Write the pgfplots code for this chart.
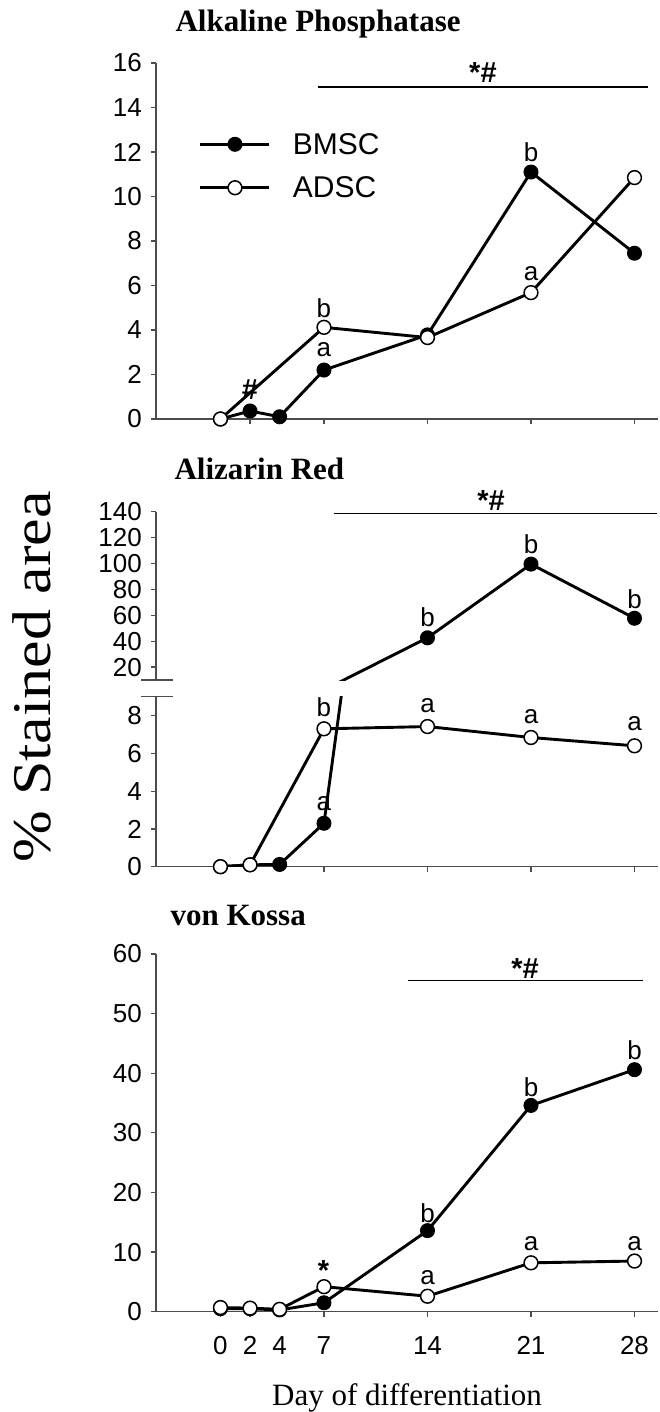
\documentclass[border=0pt]{standalone}
\usepackage{fontspec}
\setmainfont{Liberation Sans}
\newfontfamily\serif{Liberation Serif}
\usepackage{graphicx}
\usepackage{pgfplots}
\pgfplotsset{compat=1.18}
\newcommand\lab{\fontsize{26}{26}\selectfont}
\newcommand\sig{\fontsize{29}{29}\selectfont\bfseries}
\newcommand\tkl{\fontsize{26}{26}\selectfont}
\tikzset{brk/.style={draw=black!70, line width=1.2pt}, xl/.style={font=\tkl, anchor=base, yshift=-43pt}}
\pgfplotsset{
  base/.style={
    scale only axis, width=502pt,
    xmin=-4.36, xmax=29.59,
    axis x line=bottom, axis y line=left,
    axis line style={draw=black!70, line width=1.2pt, -},
    tick align=outside, major tick length=5pt,
    tick style={draw=black!70, line width=1.2pt},
    xtick={0,2,4,7,14,21,28}, xticklabels={},
    tick label style={font=\tkl},
    yticklabel style={anchor=east, inner sep=0pt, xshift=-9pt},
    /pgf/number format/assume math mode=true,
    clip mode=individual,
    anchor=south west,
  },
  bmsc/.style={black, line width=2.9pt, mark=*, mark size=7pt, mark options={fill=black, draw=black, line width=1pt}},
  adsc/.style={black, line width=2.9pt, mark=*, mark size=6.9pt, mark options={fill=white, draw=black, line width=1.5pt}},
  sigline/.style={black, line width=1.2pt, no marks, forget plot},
}
\begin{document}
\begin{tikzpicture}
\useasboundingbox (0,0) rectangle (659pt,-1412pt);
% ---------- Panel 1 ----------
\node[anchor=base west, font=\serif\bfseries\fontsize{31}{31}\selectfont] at (172pt,-32pt) {Alkaline Phosphatase};
\begin{axis}[base, at={(156pt,-419pt)}, height=356pt, ymin=0, ymax=16, ytick={0,2,...,16},
  legend style={draw=none, fill=none, at={(axis cs:-1.45,11.37)}, anchor=west, inner sep=0pt, outer sep=0pt,
    font=\fontsize{30}{30}\selectfont, row sep=21pt, column sep=22pt,
    nodes={inner sep=0pt}},
  legend cell align=left,
  legend image code/.code={\draw[mark repeat=2,mark phase=2,#1] plot coordinates {(0pt,0pt) (34.5pt,0pt) (69pt,0pt)};}
]
\addplot[bmsc] coordinates {(0,0) (2,0.36) (4,0.1) (7,2.2) (14,3.78) (21,11.1) (28,7.45)};
\addlegendentry{BMSC}
\addplot[adsc] coordinates {(0,0) (7,4.12) (14,3.66) (21,5.68) (28,10.85)};
\addlegendentry{ADSC}
\addplot[sigline] coordinates {(6.6,14.92) (28.9,14.92)};
\node[font=\sig] at (axis cs:17.75,15.55) {*\#};
\node[font=\sig] at (axis cs:2,1.3) {\#};
\node[font=\lab] at (axis cs:7,3.1) {a};
\node[font=\lab] at (axis cs:7,5.0) {b};
\node[font=\lab] at (axis cs:21,12.0) {b};
\node[font=\lab] at (axis cs:21,6.55) {a};
\end{axis}
% ---------- Panel 2 ----------
\node[anchor=base west, font=\serif\bfseries\fontsize{31}{31}\selectfont] at (171pt,-479pt) {Alizarin Red};
\begin{axis}[base, at={(156pt,-680pt)}, height=168.3pt, ymin=10, ymax=140, ytick={20,40,...,140},
  axis x line=none, xtick=\empty]
\addplot[bmsc] coordinates {(0,0) (2,0.1) (4,0.12) (7,2.3) (14,42.6) (21,99.5) (28,57.7)};
\addplot[sigline] coordinates {(7.68,138.5) (29.55,138.5)};
\node[font=\sig] at (axis cs:18.3,148.7) {*\#};
\node[font=\lab] at (axis cs:14,58.5) {b};
\node[font=\lab] at (axis cs:21,114.9) {b};
\node[font=\lab] at (axis cs:28,72.6) {b};
\draw[brk] ([xshift=-15pt]rel axis cs:0,0) -- ([xshift=17pt]rel axis cs:0,0);
\end{axis}
\begin{axis}[base, at={(156pt,-866.7pt)}, height=170pt, ymin=0, ymax=9, ytick={0,2,...,8}]
\addplot[bmsc] coordinates {(0,0) (2,0.1) (4,0.12) (7,2.3) (14,42.6) (21,99.5) (28,57.7)};
\addplot[adsc] coordinates {(0,0) (2,0.1) (7,7.3) (14,7.42) (21,6.84) (28,6.4)};
\node[font=\lab] at (axis cs:7,8.46) {b};
\node[font=\lab] at (axis cs:7,3.35) {a};
\node[font=\lab] at (axis cs:14,8.55) {a};
\node[font=\lab] at (axis cs:21,7.96) {a};
\node[font=\lab] at (axis cs:28,7.58) {a};
\draw[brk] ([xshift=-15pt]rel axis cs:0,1) -- ([xshift=17pt]rel axis cs:0,1);
\end{axis}
% ---------- Panel 3 ----------
\node[anchor=base west, font=\serif\bfseries\fontsize{31}{31}\selectfont] at (167pt,-925pt) {von Kossa};
\begin{axis}[base, at={(156pt,-1311.7pt)}, height=357.7pt, ymin=0, ymax=60, ytick={0,10,...,60}]
\addplot[bmsc] coordinates {(0,0.5) (2,0.5) (4,0.3) (7,1.5) (14,13.6) (21,34.6) (28,40.6)};
\addplot[adsc] coordinates {(0,0.7) (2,0.6) (4,0.4) (7,4.2) (14,2.6) (21,8.2) (28,8.5)};
\addplot[sigline] coordinates {(12.65,55.5) (28.57,55.5)};
\node[font=\sig] at (axis cs:20.6,57.6) {*\#};
\node[font=\sig] at (axis cs:6.97,6.95) {*};
\node[font=\lab] at (axis cs:14,5.8) {a};
\node[font=\lab] at (axis cs:14,16.6) {b};
\node[font=\lab] at (axis cs:21,37.7) {b};
\node[font=\lab] at (axis cs:28,43.9) {b};
\node[font=\lab] at (axis cs:21,11.5) {a};
\node[font=\lab] at (axis cs:28,11.5) {a};
\node[xl] at (axis cs:0,0) {0};
\node[xl] at (axis cs:2,0) {2};
\node[xl] at (axis cs:4,0) {4};
\node[xl] at (axis cs:7,0) {7};
\node[xl] at (axis cs:14,0) {14};
\node[xl] at (axis cs:21,0) {21};
\node[xl] at (axis cs:28,0) {28};
\end{axis}
\node[anchor=base, font=\serif\fontsize{31}{31}\selectfont] at (407pt,-1405pt) {Day of differentiation};
\node[rotate=90, anchor=base] at (50pt,-677pt) {\scalebox{1}[0.88]{\serif\fontsize{62}{62}\selectfont\% Stained area}};
\end{tikzpicture}
\end{document}
